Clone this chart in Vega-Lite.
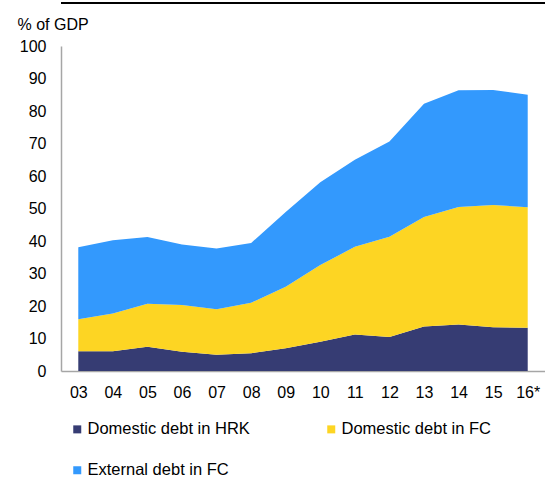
{
  "$schema": "https://vega.github.io/schema/vega-lite/v6.json",
  "width": 484,
  "height": 325,
  "autosize": "none",
  "padding": {"left": 61, "top": 46, "right": 0, "bottom": 106},
  "background": "white",
  "config": {
    "font": "Liberation Sans",
    "view": {"stroke": null},
    "axis": {"grid": false, "ticks": false, "domainColor": "#A6A6A6", "domainWidth": 1.5, "labelColor": "#000000", "labelFontSize": 16, "titleColor": "#000000", "labelOverlap": false, "labelFlush": false}
  },
  "data": {
    "values": [
      {"year": "03", "series": "Domestic debt in HRK", "k": 1, "value": 6.1},
      {"year": "03", "series": "Domestic debt in FC", "k": 2, "value": 9.8},
      {"year": "03", "series": "External debt in FC", "k": 3, "value": 22.2},
      {"year": "04", "series": "Domestic debt in HRK", "k": 1, "value": 6.1},
      {"year": "04", "series": "Domestic debt in FC", "k": 2, "value": 11.6},
      {"year": "04", "series": "External debt in FC", "k": 3, "value": 22.5},
      {"year": "05", "series": "Domestic debt in HRK", "k": 1, "value": 7.5},
      {"year": "05", "series": "Domestic debt in FC", "k": 2, "value": 13.2},
      {"year": "05", "series": "External debt in FC", "k": 3, "value": 20.5},
      {"year": "06", "series": "Domestic debt in HRK", "k": 1, "value": 5.9},
      {"year": "06", "series": "Domestic debt in FC", "k": 2, "value": 14.4},
      {"year": "06", "series": "External debt in FC", "k": 3, "value": 18.6},
      {"year": "07", "series": "Domestic debt in HRK", "k": 1, "value": 5.0},
      {"year": "07", "series": "Domestic debt in FC", "k": 2, "value": 14.0},
      {"year": "07", "series": "External debt in FC", "k": 3, "value": 18.7},
      {"year": "08", "series": "Domestic debt in HRK", "k": 1, "value": 5.5},
      {"year": "08", "series": "Domestic debt in FC", "k": 2, "value": 15.5},
      {"year": "08", "series": "External debt in FC", "k": 3, "value": 18.4},
      {"year": "09", "series": "Domestic debt in HRK", "k": 1, "value": 7.0},
      {"year": "09", "series": "Domestic debt in FC", "k": 2, "value": 18.9},
      {"year": "09", "series": "External debt in FC", "k": 3, "value": 23.0},
      {"year": "10", "series": "Domestic debt in HRK", "k": 1, "value": 9.0},
      {"year": "10", "series": "Domestic debt in FC", "k": 2, "value": 23.6},
      {"year": "10", "series": "External debt in FC", "k": 3, "value": 25.5},
      {"year": "11", "series": "Domestic debt in HRK", "k": 1, "value": 11.2},
      {"year": "11", "series": "Domestic debt in FC", "k": 2, "value": 27.0},
      {"year": "11", "series": "External debt in FC", "k": 3, "value": 26.8},
      {"year": "12", "series": "Domestic debt in HRK", "k": 1, "value": 10.5},
      {"year": "12", "series": "Domestic debt in FC", "k": 2, "value": 30.8},
      {"year": "12", "series": "External debt in FC", "k": 3, "value": 29.3},
      {"year": "13", "series": "Domestic debt in HRK", "k": 1, "value": 13.7},
      {"year": "13", "series": "Domestic debt in FC", "k": 2, "value": 33.7},
      {"year": "13", "series": "External debt in FC", "k": 3, "value": 34.8},
      {"year": "14", "series": "Domestic debt in HRK", "k": 1, "value": 14.3},
      {"year": "14", "series": "Domestic debt in FC", "k": 2, "value": 36.2},
      {"year": "14", "series": "External debt in FC", "k": 3, "value": 35.9},
      {"year": "15", "series": "Domestic debt in HRK", "k": 1, "value": 13.5},
      {"year": "15", "series": "Domestic debt in FC", "k": 2, "value": 37.6},
      {"year": "15", "series": "External debt in FC", "k": 3, "value": 35.4},
      {"year": "16*", "series": "Domestic debt in HRK", "k": 1, "value": 13.3},
      {"year": "16*", "series": "Domestic debt in FC", "k": 2, "value": 37.1},
      {"year": "16*", "series": "External debt in FC", "k": 3, "value": 34.6}
    ]
  },
  "layer": [
    {
      "mark": {"type": "area", "opacity": 1},
      "encoding": {
        "x": {
          "field": "year", "type": "ordinal", "sort": null,
          "scale": {"type": "point", "padding": 0.5},
          "axis": {"title": null, "labelAngle": 0, "labelPadding": 13}
        },
        "y": {
          "field": "value", "type": "quantitative", "stack": "zero",
          "scale": {"domain": [0, 100], "nice": false},
          "axis": {
            "title": "% of GDP", "titleAngle": 0, "titleAlign": "left", "titleBaseline": "alphabetic",
            "titleX": -44, "titleY": -17, "titleFontWeight": "normal", "titleFontSize": 16,
            "values": [0, 10, 20, 30, 40, 50, 60, 70, 80, 90, 100], "tickCount": 11,
            "labelOverlap": false, "labelPadding": 15
          }
        },
        "color": {
          "field": "series", "type": "nominal",
          "scale": {
            "domain": ["Domestic debt in HRK", "Domestic debt in FC", "External debt in FC"],
            "range": ["#363C73", "#FDD523", "#3399FD"]
          },
          "legend": {
            "title": null, "orient": "none", "legendX": 8, "legendY": 375,
            "columns": 2, "direction": "horizontal", "symbolType": "square", "symbolSize": 64,
            "symbolStrokeWidth": 0, "symbolOpacity": 1, "labelFontSize": 16.5, "labelColor": "#000000",
            "labelOffset": 2, "columnPadding": 73, "rowPadding": 24, "labelLimit": 300
          }
        },
        "order": {"field": "k", "type": "quantitative"}
      }
    },
    {
      "mark": {"type": "rule", "color": "#000000", "strokeWidth": 1.5, "clip": false},
      "encoding": {"y": {"datum": 113.3}}
    }
  ]
}
